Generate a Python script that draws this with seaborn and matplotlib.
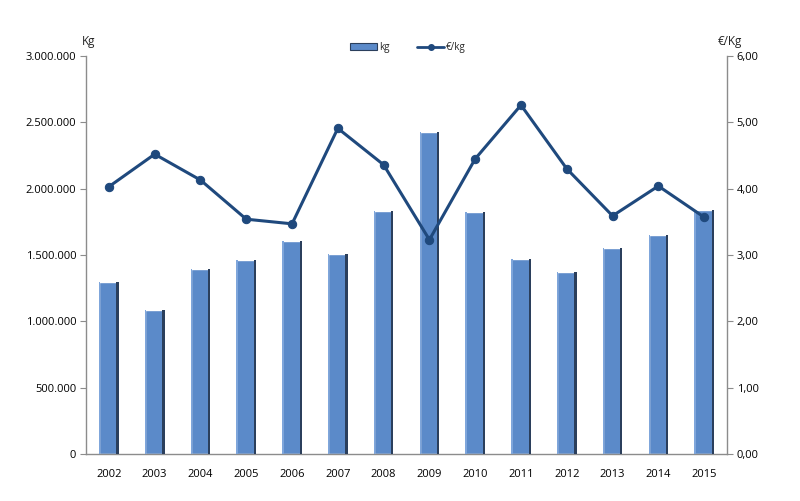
import numpy as np
import pandas as pd
import seaborn as sns
import matplotlib.pyplot as plt
from matplotlib.lines import Line2D
from matplotlib.patches import Patch
from matplotlib.ticker import FuncFormatter

# data
years = ['2002', '2003', '2004', '2005', '2006', '2007', '2008',
         '2009', '2010', '2011', '2012', '2013', '2014', '2015']
kg = [1296000, 1085000, 1394000, 1462000, 1605000, 1507000, 1832000,
      2427000, 1824000, 1470000, 1372000, 1553000, 1651000, 1839000]
eur_kg = [4.03, 4.52, 4.13, 3.54, 3.47, 4.91, 4.36,
          3.23, 4.45, 5.26, 4.30, 3.59, 4.04, 3.57]

Data = pd.DataFrame({'Year': years, 'Kg': kg, 'Price': eur_kg})
Data['pos'] = np.arange(len(years))

sns.set_style('white')
plt.rcParams['font.family'] = ['Open Sans', 'DejaVu Sans']

bar_col = '#5B8AC9'
dark_col = '#2B3F5C'
line_col = '#1F497D'
axis_col = '#8C8C8C'

fig = plt.figure(figsize=(8, 5.01), dpi=100)
ax = fig.add_axes([0.1075, 0.0938, 0.8013, 0.7944])

sns.barplot(data=Data, x='Year', y='Kg', color=bar_col, width=0.43,
            saturation=1, ax=ax, zorder=2)
# darker right edge to mimic the shaded excel bars
ax.bar(Data['pos'] + 0.19, Data['Kg'], width=0.05, color=dark_col,
       zorder=3, linewidth=0)
ax.bar(Data['pos'] - 0.2, Data['Kg'], width=0.03, color='#7FA6DB',
       zorder=3, linewidth=0)

ax.set_xlim(-0.5, 13.5)
ax.set_ylim(0, 3000000)
ax.set_yticks(np.arange(0, 3000001, 500000))
ax.yaxis.set_major_formatter(FuncFormatter(lambda v, p: f'{int(v):,}'.replace(',', '.')))
ax.set_xlabel('')
ax.set_ylabel('')

ax2 = ax.twinx()
sns.lineplot(data=Data, x='pos', y='Price', color=line_col, linewidth=2.2,
             marker='o', markersize=6, markeredgecolor=line_col, ax=ax2, zorder=4)
ax2.set_ylim(0, 6)
ax2.set_yticks(np.arange(0, 6.01, 1))
ax2.yaxis.set_major_formatter(FuncFormatter(lambda v, p: f'{v:.2f}'.replace('.', ',')))
ax2.set_xlim(-0.5, 13.5)
ax2.set_xlabel('')
ax2.set_ylabel('')

for a in (ax, ax2):
    for s in a.spines.values():
        s.set_visible(False)
    a.tick_params(labelsize=8, colors='black', length=4, width=0.8)
ax.spines['left'].set_visible(True)
ax.spines['bottom'].set_visible(True)
ax2.spines['right'].set_visible(True)
for s in (ax.spines['left'], ax.spines['bottom'], ax2.spines['right']):
    s.set_color(axis_col)
    s.set_linewidth(1)
ax.tick_params(axis='y', left=True, color=axis_col, pad=3)
ax.tick_params(axis='x', bottom=False, pad=7)
ax2.tick_params(axis='y', right=True, color=axis_col, pad=3)

fig.text(0.1025, 0.905, 'Kg', fontsize=8.5, ha='left', va='bottom')
fig.text(0.897, 0.905, '€/Kg', fontsize=8.5, ha='left', va='bottom')

handles = [Patch(facecolor=bar_col, edgecolor=dark_col, linewidth=0.8),
           Line2D([0], [0], color=line_col, linewidth=2, marker='o', markersize=4)]
fig.legend(handles, ['kg', '€/kg'], loc='center', bbox_to_anchor=(0.51, 0.905),
           ncol=2, frameon=False, fontsize=7, handlelength=2.8,
           handletextpad=0.2, columnspacing=2.8)

plt.savefig('out.png', dpi=100)
